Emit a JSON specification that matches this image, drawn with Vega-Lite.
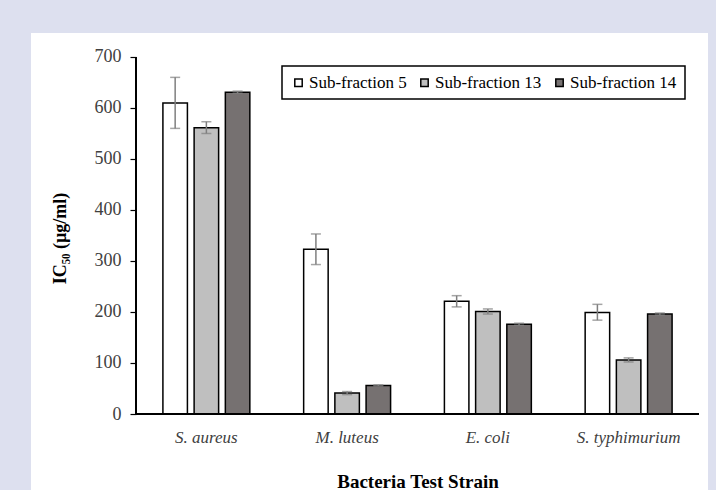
{
  "$schema": "https://vega.github.io/schema/vega-lite/v6.json",
  "width": 677,
  "height": 457,
  "autosize": {"type": "none"},
  "padding": {"left": 31, "top": 33, "right": 8, "bottom": 0},
  "background": "#dde0ef",
  "config": {
    "view": {"fill": "white", "stroke": null},
    "font": "Liberation Serif",
    "legend": {"strokeWidth": 1.5}
  },
  "data": {
    "values": [
      {"strain": "S. aureus", "series": "Sub-fraction 5", "value": 610, "lo": 560, "hi": 660},
      {"strain": "S. aureus", "series": "Sub-fraction 13", "value": 561, "lo": 550, "hi": 573},
      {"strain": "S. aureus", "series": "Sub-fraction 14", "value": 631, "lo": 629, "hi": 633},
      {"strain": "M. luteus", "series": "Sub-fraction 5", "value": 323, "lo": 293, "hi": 353},
      {"strain": "M. luteus", "series": "Sub-fraction 13", "value": 41, "lo": 38, "hi": 44},
      {"strain": "M. luteus", "series": "Sub-fraction 14", "value": 56, "lo": 55, "hi": 57},
      {"strain": "E. coli", "series": "Sub-fraction 5", "value": 221, "lo": 210, "hi": 232},
      {"strain": "E. coli", "series": "Sub-fraction 13", "value": 201, "lo": 196, "hi": 206},
      {"strain": "E. coli", "series": "Sub-fraction 14", "value": 176, "lo": 174, "hi": 178},
      {"strain": "S. typhimurium", "series": "Sub-fraction 5", "value": 199, "lo": 184, "hi": 215},
      {"strain": "S. typhimurium", "series": "Sub-fraction 13", "value": 106, "lo": 102, "hi": 110},
      {"strain": "S. typhimurium", "series": "Sub-fraction 14", "value": 196, "lo": 194, "hi": 198}
    ]
  },
  "layer": [
    {
      "mark": {"type": "bar", "stroke": "black", "strokeWidth": 1.5},
      "encoding": {
        "x": {
          "field": "strain", "type": "nominal",
          "sort": ["S. aureus", "M. luteus", "E. coli", "S. typhimurium"],
          "scale": {"paddingInner": 0, "paddingOuter": 0.405, "align": 0.921},
          "axis": {
            "title": "Bacteria Test Strain",
            "offset": -76, "domain": false, "ticks": false,
            "labelAngle": 0, "labelPadding": 15,
            "labelFont": "Liberation Serif", "labelFontSize": 17, "labelFontStyle": "italic", "labelColor": "#404040",
            "titleFont": "Liberation Serif", "titleFontSize": 19, "titleFontWeight": "bold", "titleColor": "black",
            "titlePadding": 27, "titleX": 386.5
          }
        },
        "xOffset": {
          "field": "series", "type": "nominal",
          "sort": ["Sub-fraction 5", "Sub-fraction 13", "Sub-fraction 14"],
          "scale": {"paddingInner": 0.215, "paddingOuter": 0.862}
        },
        "y": {
          "field": "value", "type": "quantitative",
          "scale": {"domain": [-149, 747], "nice": false, "zero": false},
          "axis": {
            "title": "IC₅₀ (µg/ml)",
            "values": [0, 100, 200, 300, 400, 500, 600, 700],
            "offset": -105, "domain": false, "grid": false,
            "tickColor": "black", "tickSize": 6, "tickWidth": 1.2,
            "labelFont": "Liberation Serif", "labelFontSize": 18, "labelColor": "#404040", "labelPadding": 9,
            "titleFont": "Liberation Serif", "titleFontSize": 18, "titleFontWeight": "bold", "titleColor": "black",
            "titlePadding": 25, "titleY": 205
          }
        },
        "y2": {"datum": 0},
        "fill": {
          "field": "series", "type": "nominal",
          "scale": {
            "domain": ["Sub-fraction 5", "Sub-fraction 13", "Sub-fraction 14"],
            "range": ["white", "#bfbfbf", "#767171"]
          },
          "legend": {
            "title": null, "orient": "none", "legendX": 251, "legendY": 33,
            "direction": "horizontal", "strokeColor": "black", "fillColor": "white",
            "padding": 8, "symbolType": "square", "symbolSize": 55,
            "symbolStrokeColor": "black", "symbolStrokeWidth": 1.5,
            "labelFont": "Liberation Serif", "labelFontSize": 17, "labelColor": "black",
            "labelOffset": 2, "columnPadding": 9
          }
        }
      }
    },
    {
      "mark": {"type": "rule", "color": "#7f7f7f", "strokeWidth": 1.5},
      "encoding": {
        "x": {"field": "strain", "type": "nominal", "sort": ["S. aureus", "M. luteus", "E. coli", "S. typhimurium"]},
        "xOffset": {"field": "series", "type": "nominal", "sort": ["Sub-fraction 5", "Sub-fraction 13", "Sub-fraction 14"]},
        "y": {"field": "lo", "type": "quantitative"},
        "y2": {"field": "hi"}
      }
    },
    {
      "mark": {"type": "tick", "color": "#7f7f7f", "thickness": 1.5, "size": 10},
      "encoding": {
        "x": {"field": "strain", "type": "nominal", "sort": ["S. aureus", "M. luteus", "E. coli", "S. typhimurium"]},
        "xOffset": {"field": "series", "type": "nominal", "sort": ["Sub-fraction 5", "Sub-fraction 13", "Sub-fraction 14"]},
        "y": {"field": "lo", "type": "quantitative"}
      }
    },
    {
      "mark": {"type": "tick", "color": "#7f7f7f", "thickness": 1.5, "size": 10},
      "encoding": {
        "x": {"field": "strain", "type": "nominal", "sort": ["S. aureus", "M. luteus", "E. coli", "S. typhimurium"]},
        "xOffset": {"field": "series", "type": "nominal", "sort": ["Sub-fraction 5", "Sub-fraction 13", "Sub-fraction 14"]},
        "y": {"field": "hi", "type": "quantitative"}
      }
    },
    {
      "mark": {"type": "rule", "color": "black", "strokeWidth": 1.2},
      "encoding": {
        "x": {"datum": "S. aureus", "type": "nominal", "bandPosition": 0},
        "y": {"datum": 0, "type": "quantitative"},
        "y2": {"datum": 700}
      }
    },
    {
      "mark": {"type": "rule", "color": "black", "strokeWidth": 1.2},
      "encoding": {
        "x": {"datum": "S. aureus", "type": "nominal", "bandPosition": 0},
        "x2": {"datum": "S. typhimurium", "bandPosition": 1},
        "y": {"datum": 0, "type": "quantitative"}
      }
    }
  ]
}
